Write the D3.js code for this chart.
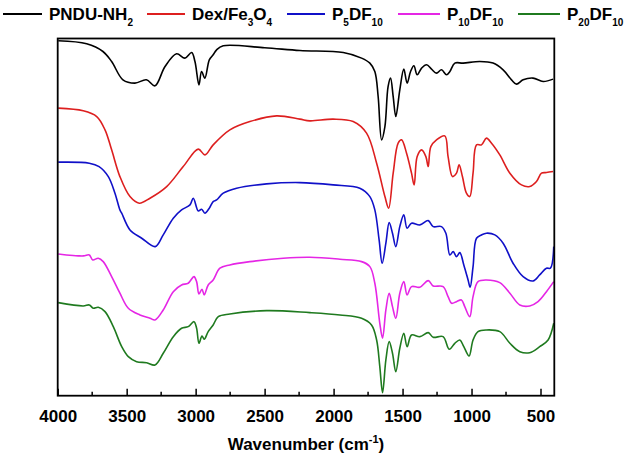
<!DOCTYPE html>
<html><head><meta charset="utf-8">
<script src="https://cdn.jsdelivr.net/npm/d3@7"></script>
<style>
html,body{margin:0;padding:0;background:#fff;}
svg{display:block;font-family:"Liberation Sans",Arial,sans-serif;font-weight:bold;}
</style></head>
<body><svg id="c" width="630" height="466"></svg>
<script>
// Wavenumber (cm-1) vs transmittance (arbitrary units, curves stacked)
const seriesNames = ["PNDU-NH2", "Dex/Fe3O4", "P5DF10", "P10DF10", "P20DF10"];
const seriesColors = ["#000000", "#dd1f1f", "#1010c8", "#e526e5", "#1f7a1f"];
const xTicks = [4000, 3500, 3000, 2500, 2000, 1500, 1000, 500];

const pnduNH2 = [[3996,354.7],[3790,351.7],[3672,344],[3609,334],[3527,315.7],[3440,312.4],[3357,315.7],[3295,309.7],[3222,329],[3138,341.7],[3078,337.4],[3029,343],[3005,334],[2976,310.7],[2957,324],[2933,317.4],[2901,335.7],[2873,340.7],[2848,345.7],[2800,349.7],[2500,347.7],[2244,345],[1930,343],[1797,337.4],[1737,332.4],[1701,324],[1677,299],[1652,255.7],[1628,269],[1605,309],[1587,317.4],[1568,299],[1549,279],[1520,305.7],[1491,326.4],[1467,312.4],[1442,324],[1418,329.7],[1394,320.7],[1362,327.4],[1326,330.7],[1290,326.4],[1254,322.4],[1218,325.7],[1181,320.7],[1157,324],[1121,332.4],[1061,332.4],[940,334],[844,332.4],[771,325.7],[710,315.7],[674,311.4],[626,315.7],[554,317.4],[481,314],[409,316.4]];
const dexFe3O4 = [[3996,287.4],[3815,284.7],[3717,279],[3657,265.7],[3609,245.7],[3549,219],[3476,199],[3409,192.4],[3331,197.4],[3210,209],[3090,229],[2981,246.4],[2933,240.7],[2873,250.7],[2752,265.7],[2607,274],[2413,279.7],[2244,276.4],[2172,274.7],[2003,276.4],[1858,274],[1761,262.4],[1688,232.4],[1628,199],[1601,187.4],[1568,222.4],[1532,252.4],[1507,255.7],[1471,242.4],[1435,222.4],[1416,210.7],[1394,239],[1362,245.7],[1331,239],[1314,229],[1295,249],[1254,255.7],[1194,259.7],[1170,239],[1138,219],[1109,222.4],[1090,230.7],[1066,219],[1037,202.4],[1013,199],[989,222.4],[964,250.7],[928,250.7],[892,257.4],[855,252.4],[795,240.7],[722,222.4],[638,210.7],[578,209],[529,214],[493,222.4],[457,223],[409,224]];
const p5DF10 = [[3996,233.4],[3771,232.4],[3700,229],[3633,219],[3585,202.4],[3549,185.7],[3536,182.4],[3476,165.7],[3391,157.4],[3293,149],[3235,160.7],[3162,177.4],[3102,185.7],[3041,190.7],[3017,197.4],[2981,184.7],[2957,186.4],[2933,182.4],[2901,187.4],[2873,194],[2848,195.7],[2800,202.4],[2703,207.4],[2486,211.7],[2244,213],[2003,210.7],[1810,207.4],[1737,199],[1701,185.7],[1670,155.7],[1648,132.4],[1621,152.4],[1597,173],[1573,162.4],[1549,149],[1520,169],[1491,180.7],[1467,167.4],[1435,172.4],[1375,170.7],[1314,175],[1278,169],[1218,169],[1186,162.4],[1157,140.7],[1133,144],[1109,139],[1085,143],[1056,130.7],[1025,115.7],[1010,108.4],[989,129],[964,157.4],[928,160.7],[892,162.4],[831,160.7],[771,152.4],[699,132.4],[626,119],[554,114.7],[506,120.7],[457,127.4],[428,127.4],[404,149]];
const p10DF10 = [[3996,141.7],[3815,139.7],[3771,140.7],[3746,135.7],[3706,137.4],[3670,134],[3609,119],[3549,102.4],[3488,87.4],[3404,80.7],[3331,77.4],[3295,75.7],[3235,85.7],[3162,104],[3102,110.7],[3054,112.4],[3012,119],[2993,114],[2976,101.7],[2954,106.4],[2938,100.7],[2909,110.7],[2873,115.7],[2824,127.4],[2752,130.7],[2607,134],[2365,137.4],[2172,138.4],[1954,136.4],[1797,134],[1737,129],[1701,112.4],[1665,72.4],[1645,57.4],[1621,85.7],[1597,102.4],[1573,89],[1549,77.4],[1520,102.4],[1491,114],[1467,100.7],[1435,109],[1375,108.4],[1314,115],[1278,109.7],[1206,109],[1170,99],[1145,92.4],[1109,94],[1073,95.7],[1049,89],[1013,79],[989,99],[953,114],[892,115.7],[795,113],[722,102.4],[650,90.7],[578,89.7],[518,94],[457,104],[404,114]];
const p20DF10 = [[3996,93],[3815,89.7],[3771,90.7],[3742,87.4],[3706,88.4],[3657,84],[3597,69],[3536,49],[3488,39],[3428,34],[3355,33],[3295,30.7],[3235,42.4],[3162,59],[3102,67.4],[3054,69],[3012,74],[2993,67.4],[2976,52.4],[2954,59.7],[2938,56.4],[2909,64],[2873,70.7],[2836,79],[2752,81.7],[2486,85],[2172,83],[1954,80.7],[1797,77.4],[1725,70.7],[1688,55.7],[1665,29],[1645,3],[1621,35.7],[1597,54],[1573,42.4],[1549,24],[1520,47.4],[1491,62.4],[1467,49],[1435,60.7],[1375,59],[1314,63],[1278,58.4],[1206,59],[1162,46.4],[1121,52.4],[1085,55.7],[1056,49],[1018,39.7],[989,55.7],[953,64],[892,65.7],[795,64],[722,52.4],[650,44],[578,43],[506,49],[445,55.7],[404,72.4]];

const seriesData = [pnduNH2, dexFe3O4, p5DF10, p10DF10, p20DF10];

const svg = d3.select("#c");
const L = 57.7, R = 554.3, T = 38.5, B = 395.7;
const x = d3.scaleLinear().domain([4000, 400]).range([L, R]);
const y = d3.scaleLinear().domain([0, 357]).range([B, T]);

const line = d3.line().x(d => x(d[0])).y(d => y(d[1])).curve(d3.curveCatmullRom.alpha(0.5));

svg.append("g").selectAll("path").data(seriesData).join("path")
  .attr("d", line).attr("fill", "none")
  .attr("stroke", (d, i) => seriesColors[i]).attr("stroke-width", 1.6)
  .attr("stroke-linejoin", "round");

// frame
svg.append("rect").attr("x", L).attr("y", T).attr("width", R - L).attr("height", B - T)
  .attr("fill", "none").attr("stroke", "#000").attr("stroke-width", 1.8);

// bottom axis, inward ticks
const minorTicks = d3.range(3750, 400, -500);
const axG = svg.append("g").attr("transform", `translate(0,${B})`);
axG.call(d3.axisBottom(x).tickValues(xTicks).tickFormat(d3.format("d"))
  .tickSizeInner(-7).tickSizeOuter(0).tickPadding(14));
axG.select(".domain").remove();
axG.selectAll(".tick line").attr("stroke-width", 1.5);
axG.selectAll(".tick text").attr("font-size", 17).attr("font-weight", "bold")
  .attr("font-family", "Liberation Sans, Arial, sans-serif").attr("fill", "#000");
svg.append("g").selectAll("line").data(minorTicks).join("line")
  .attr("x1", d => x(d)).attr("x2", d => x(d)).attr("y1", B).attr("y2", B - 4)
  .attr("stroke", "#000").attr("stroke-width", 1.5);

// axis title
const tt = svg.append("text").attr("x", (L + R) / 2).attr("y", 450).attr("text-anchor", "middle")
  .attr("font-size", 17);
tt.append("tspan").text("Wavenumber (cm");
tt.append("tspan").attr("dy", -7).attr("font-size", 11).text("-1");
tt.append("tspan").attr("dy", 7).text(")");

// legend
const legendParts = [
  [["PNDU-NH", 0], ["2", 1]],
  [["Dex/Fe", 0], ["3", 1], ["O", 0], ["4", 1]],
  [["P", 0], ["5", 1], ["DF", 0], ["10", 1]],
  [["P", 0], ["10", 1], ["DF", 0], ["10", 1]],
  [["P", 0], ["20", 1], ["DF", 0], ["10", 1]]
];
const legendX = [3, 147, 287, 398, 518];
const legendLineLen = [39, 38, 38, 42, 42];
legendParts.forEach((parts, i) => {
  const g = svg.append("g").attr("transform", `translate(${legendX[i]},0)`);
  g.append("line").attr("x1", 0).attr("x2", legendLineLen[i]).attr("y1", 14).attr("y2", 14)
    .attr("stroke", seriesColors[i]).attr("stroke-width", 1.8);
  const t = g.append("text").attr("x", legendLineLen[i] + 7).attr("y", 20).attr("font-size", 17);
  let sub = false;
  parts.forEach(([s, isSub]) => {
    const ts = t.append("tspan").text(s);
    if (isSub && !sub) { ts.attr("dy", 6).attr("font-size", 10); sub = true; }
    else if (isSub) { ts.attr("font-size", 10); }
    else if (!isSub && sub) { ts.attr("dy", -6); sub = false; }
  });
});
</script></body></html>
